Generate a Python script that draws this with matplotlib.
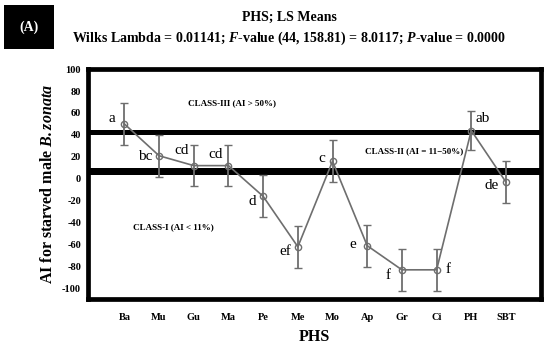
import matplotlib
matplotlib.use("Agg")
import matplotlib.pyplot as plt

# LS means for each PHS treatment
phs = ["Ba", "Mu", "Gu", "Ma", "Pe", "Me", "Mo", "Ap", "Gr", "Ci", "PH", "SBT"]
ls_mean = [50, 21, 12, 12, -16, -62, 16, -61, -83, -83, 44, -3]
ci_err = [19, 19, 19, 19, 19, 19, 19, 19, 19, 19, 18, 19]
groups = ["a", "bc", "cd", "cd", "d", "ef", "c", "e", "f", "f", "ab", "de"]
yticks = [100, 80, 60, 40, 20, 0, -20, -40, -60, -80, -100]

# where each letter sits relative to its point (pixels)
letter_offsets = [(-13, 5), (-14, -1), (-12, 15), (-13, 11), (-11, -5), (-13, -5),
                  (-11, 3), (-14, 1), (-14, -6), (11, 0), (11, 12), (-14, -3)]

plt.rcParams["font.family"] = ["Liberation Serif", "DejaVu Serif"]
plt.rcParams["mathtext.fontset"] = "custom"
plt.rcParams["mathtext.rm"] = "Liberation Serif:bold"
plt.rcParams["mathtext.it"] = "Liberation Serif:italic:bold"
plt.rcParams["mathtext.bf"] = "Liberation Serif:bold"
plt.rcParams["mathtext.bfit"] = "Liberation Serif:italic:bold"

fig = plt.figure(figsize=(5.5, 3.49), dpi=100)
ax = fig.add_axes([0.16, 0.142, 0.823, 0.66])

x = list(range(1, len(phs) + 1))
gray = "#6e6e6e"

# class boundary bands
ax.axhspan(40, 44.8, color="black", lw=0, zorder=1)
ax.axhspan(3, 9.4, color="black", lw=0, zorder=1)

ax.errorbar(x, ls_mean, yerr=ci_err, color=gray, lw=1.2, elinewidth=1.3,
            capsize=3, capthick=1.0, marker="o", ms=4.5, mfc="none",
            mec=gray, mew=1.0, zorder=3)

for xi, yi, g, off in zip(x, ls_mean, groups, letter_offsets):
    ax.annotate(g, (xi, yi), xytext=off, textcoords="offset pixels",
                ha="center", va="center", fontsize=11, zorder=4)

box = dict(facecolor="white", edgecolor="none", pad=1.5)
ax.text(4.1, 69, "CLASS-III (AI > 50%)", fontsize=6.5, fontweight="bold",
        ha="center", va="center", bbox=box, zorder=2)
ax.text(9.35, 25, "CLASS-II (AI = 11\u221250%)", fontsize=6.5, fontweight="bold",
        ha="center", va="center", bbox=box, zorder=2)
ax.text(2.4, -44, "CLASS-I (AI < 11%)", fontsize=6.5, fontweight="bold",
        ha="center", va="center", bbox=box, zorder=2)

ax.set_xlim(-0.05, 13.0)
ax.set_ylim(-110, 100)
ax.set_xticks(x)
ax.set_xticklabels(phs, fontsize=7.5, fontweight="bold")
ax.set_yticks(yticks)
ax.set_yticklabels([str(t) for t in yticks], fontsize=7.5, fontweight="bold")
ax.tick_params(axis="both", length=0)
ax.tick_params(axis="x", pad=10)
ax.tick_params(axis="y", pad=5)
for sp in ax.spines.values():
    sp.set_linewidth(3.4)

ax.set_xlabel("PHS", fontsize=11.5, fontweight="bold", labelpad=5)
ax.set_ylabel(r"AI for starved male $\mathbfit{B. zonata}$", fontsize=11.5,
              fontweight="bold", labelpad=4)

fig.text(0.527, 0.951, "PHS; LS Means", fontsize=10, fontweight="bold",
         ha="center", va="center")
fig.text(0.525, 0.891,
         r"Wilks Lambda = 0.01141; $\mathbfit{F}$-value (44, 158.81) = 8.0117; "
         r"$\mathbfit{P}$-value = 0.0000",
         fontsize=10, fontweight="bold", ha="center", va="center")
fig.text(0.053, 0.923, "(A)", fontsize=10, fontweight="bold", color="white",
         ha="center", va="center",
         bbox=dict(facecolor="black", edgecolor="none",
                   boxstyle="square,pad=1.1"))

fig.savefig("out.png", dpi=100)
